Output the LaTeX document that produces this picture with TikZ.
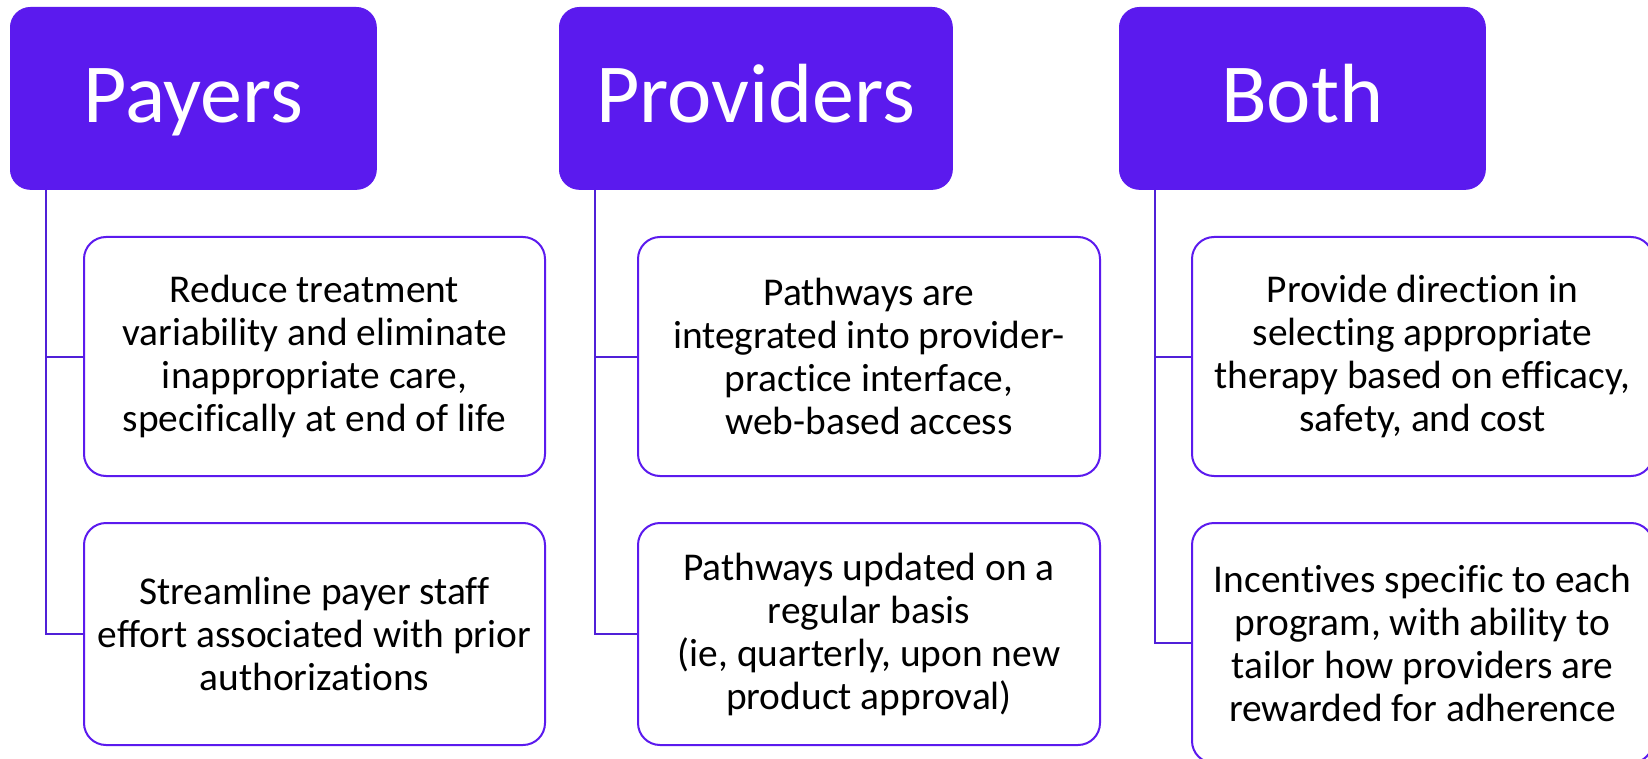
\documentclass[tikz,border=0pt]{standalone}
\usepackage{fontspec}
\setmainfont{Carlito}[Ligatures=NoCommon]
\definecolor{hdrpurple}{HTML}{5B1AEE}
\definecolor{linkpurple}{HTML}{5020D8}
\begin{document}
\begin{tikzpicture}[x=0.5pt,y=-0.5pt,
  header/.style={rectangle, rounded corners=10pt, fill=hdrpurple, draw=hdrpurple,
    text=white, inner sep=0pt, anchor=north west, minimum height=91pt,
    font=\fontsize{42}{50}\selectfont, text height=24pt, text depth=0pt},
  item/.style={rectangle, rounded corners=11pt, draw=hdrpurple, line width=1pt,
    fill=white, inner sep=0pt, anchor=north west, align=center,
    font=\fontsize{19.7}{21.5}\selectfont},
  link/.style={draw=linkpurple, line width=1pt}]
  \useasboundingbox (0,0) rectangle (1648,759);
  \clip (0,0) rectangle (1648,759);

  % column headers
  \node[header, minimum width=183pt]   (pay) at (10,7)   {Payers};
  \node[header, minimum width=196.5pt] (pro) at (559,7)  {Providers};
  \node[header, minimum width=183pt]   (bot) at (1119,7) {Both};

  % Payers column
  \node[item, minimum width=230.5pt, minimum height=119.5pt] (pay1) at (83,236)
    {Reduce treatment\\variability and eliminate\\inappropriate care,\\specifically at end of life};
  \node[item, minimum width=230.5pt, minimum height=111pt] (pay2) at (83,522)
    {Streamline payer staff\\effort associated with prior\\authorizations};

  % Providers column
  \node[item, minimum width=231pt, minimum height=119.5pt] (pro1) at (637,236)
    {Pathways are\\integrated into provider-\\practice interface,\\web-based access};
  \node[item, minimum width=231pt, minimum height=111pt] (pro2) at (637,522)
    {Pathways updated on a\\regular basis\\(ie, quarterly, upon new\\product approval)};

  % Both column
  \node[item, minimum width=230.5pt, minimum height=119.5pt] (bot1) at (1191,236)
    {Provide direction in\\selecting appropriate\\therapy based on efficacy,\\safety, and cost};
  \node[item, minimum width=230.5pt, minimum height=120pt] (bot2) at (1191,522)
    {Incentives specific to each\\program, with ability to\\tailor how providers are\\rewarded for adherence};

  % tree connectors
  \foreach \h/\c in {pay/pay1, pay/pay2, pro/pro1, pro/pro2, bot/bot1, bot/bot2}
    \draw[link] ([xshift=18pt]\h.south west) |- (\c.west);
\end{tikzpicture}
\end{document}
